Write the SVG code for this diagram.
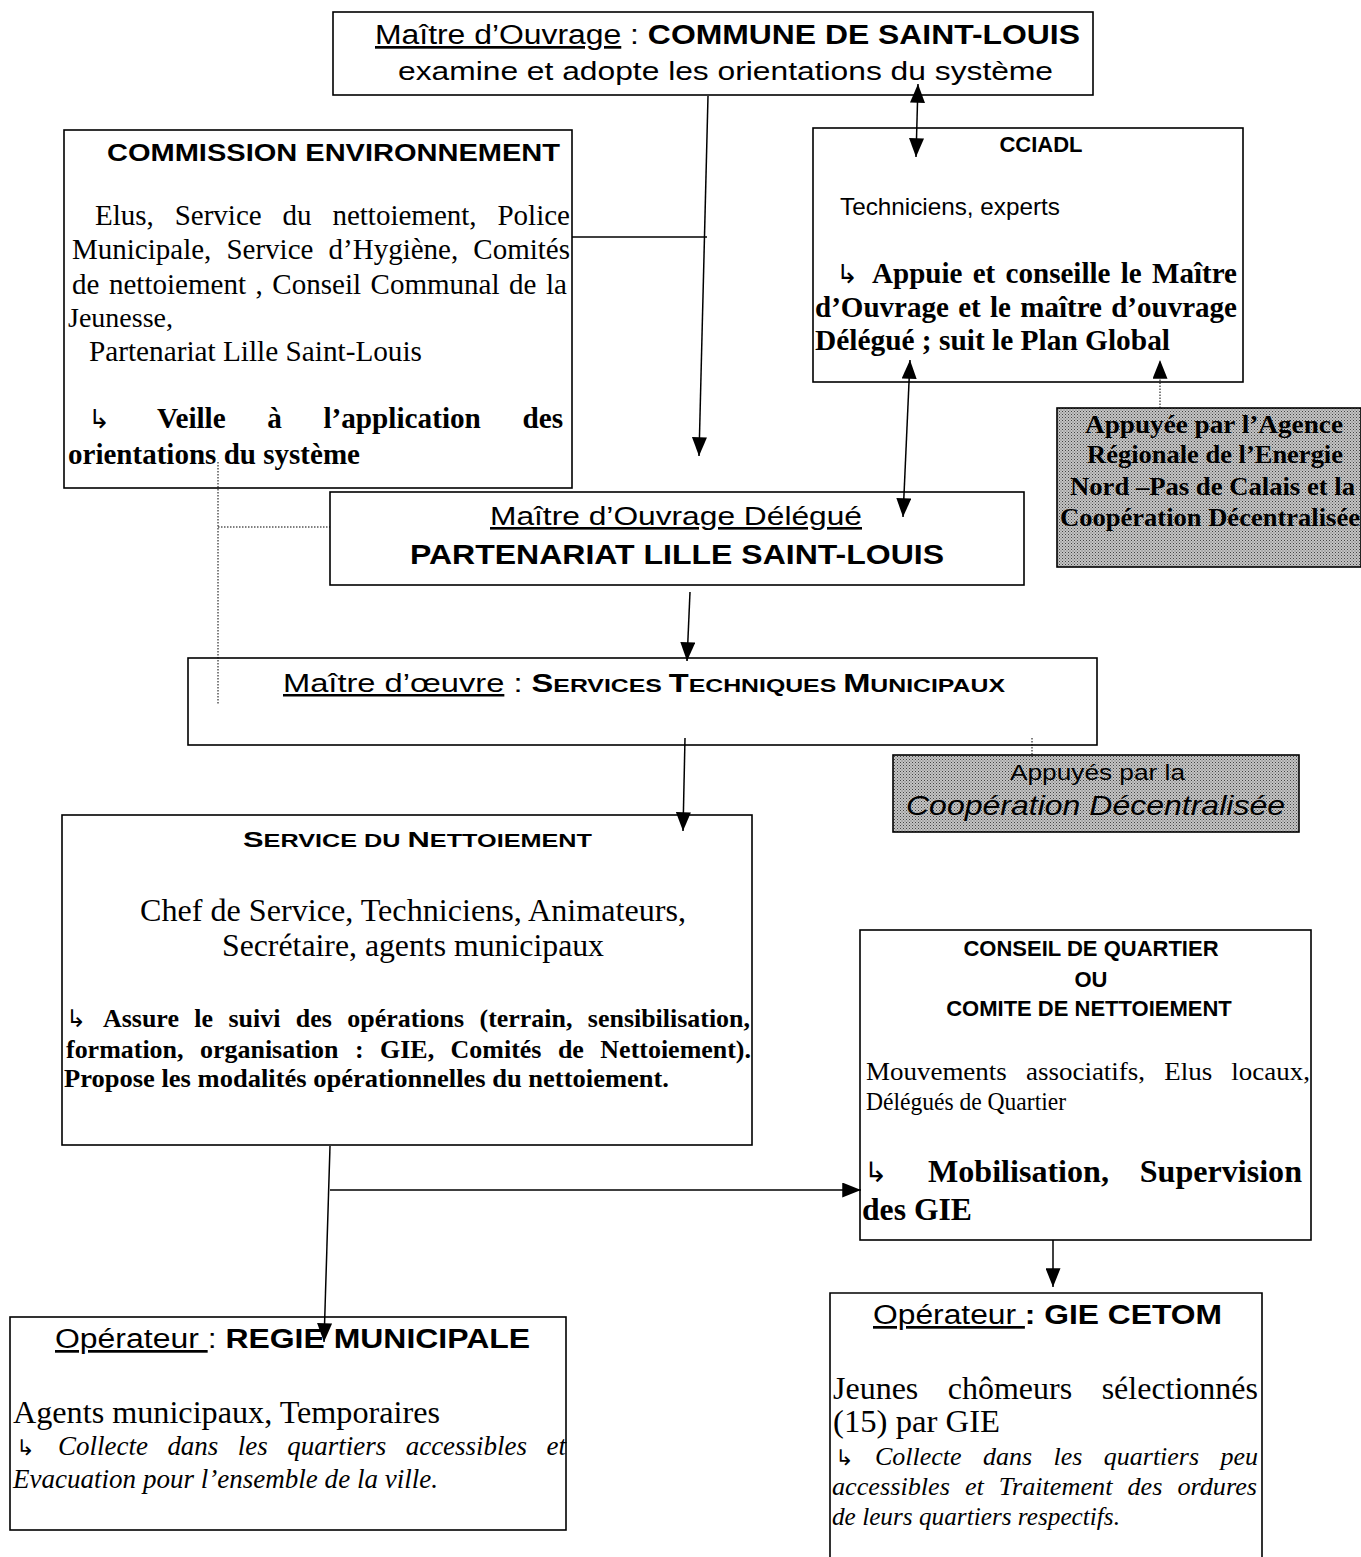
<svg xmlns="http://www.w3.org/2000/svg" width="1361" height="1557" viewBox="0 0 1361 1557">
<style>
.box{fill:#fff;stroke:#000;stroke-width:1.6}
.shade{fill:url(#dots);stroke:#000;stroke-width:1.6}
.sans{font-family:"Liberation Sans",Arial,sans-serif;fill:#000}
.serif{font-family:"Liberation Serif","Times New Roman",serif;fill:#000}
.b{font-weight:bold}
.i{font-style:italic}
.u{text-decoration:underline}
.sym{font-family:"DejaVu Sans",sans-serif;font-weight:normal;font-style:normal}
.c{text-anchor:middle}
.ln{fill:none;stroke:#000;stroke-width:1.5}
.dot{fill:none;stroke:#000;stroke-width:1;stroke-dasharray:1.5 1.5}
</style>
<defs>
<pattern id="dots" width="3" height="3" patternUnits="userSpaceOnUse">
<rect width="3" height="3" fill="#c4c4c4"/>
<rect x="0" y="0" width="1" height="1" fill="#444"/>
<rect x="1.5" y="1.5" width="1" height="1" fill="#666"/>
</pattern>
<marker id="ah" viewBox="0 0 20 16" refX="20" refY="8" markerWidth="20" markerHeight="15" markerUnits="userSpaceOnUse" orient="auto-start-reverse">
<path d="M0,0 L20,8 L0,16 Z" fill="#000"/>
</marker>
</defs>

<g id="maitre-ouvrage">
<rect class="box" x="333" y="12" width="760" height="83"/>
<text class="sans" x="375" y="44" font-size="27" textLength="705" lengthAdjust="spacingAndGlyphs"><tspan class="u">Maître d’Ouvrage</tspan> : <tspan class="b">COMMUNE DE SAINT-LOUIS</tspan></text>
<text class="sans" x="398" y="80" font-size="26" textLength="655" lengthAdjust="spacingAndGlyphs">examine et adopte les orientations du système</text>
</g>

<g id="commission">
<rect class="box" x="64" y="130" width="508" height="358"/>
<text class="sans b" x="107" y="161" font-size="24" textLength="453" lengthAdjust="spacingAndGlyphs">COMMISSION ENVIRONNEMENT</text>
<text class="serif" x="95" y="225" font-size="29" word-spacing="13.6" textLength="475" lengthAdjust="spacingAndGlyphs">Elus, Service du nettoiement, Police</text>
<text class="serif" x="72" y="259" font-size="29" word-spacing="7.9" textLength="498" lengthAdjust="spacingAndGlyphs">Municipale, Service d’Hygiène, Comités</text>
<text class="serif" x="72" y="294" font-size="29" word-spacing="2.3" textLength="495" lengthAdjust="spacingAndGlyphs">de nettoiement , Conseil Communal de la</text>
<text class="serif" x="68" y="327" font-size="28">Jeunesse,</text>
<text class="serif" x="89" y="361" font-size="29" textLength="333" lengthAdjust="spacingAndGlyphs">Partenariat Lille Saint-Louis</text>
<text class="serif" x="88" y="428" font-size="26"><tspan class="sym">↳</tspan></text>
<text class="serif b" x="157" y="428" font-size="29" word-spacing="34" textLength="406" lengthAdjust="spacingAndGlyphs">Veille à l’application des</text>
<text class="serif b" x="68" y="464" font-size="29" textLength="292" lengthAdjust="spacingAndGlyphs">orientations du système</text>
</g>

<g id="cciadl">
<rect class="box" x="813" y="128" width="430" height="254"/>
<text class="sans b c" x="1041" y="152" font-size="22">CCIADL</text>
<text class="sans" x="840" y="215" font-size="24" textLength="220" lengthAdjust="spacingAndGlyphs">Techniciens, experts</text>
<text class="serif" x="836" y="283" font-size="26"><tspan class="sym">↳</tspan></text>
<text class="serif b" x="872" y="283" font-size="29" word-spacing="3" textLength="365" lengthAdjust="spacingAndGlyphs">Appuie et conseille le Maître</text>
<text class="serif b" x="815" y="317" font-size="29" word-spacing="2" textLength="422" lengthAdjust="spacingAndGlyphs">d’Ouvrage et le maître d’ouvrage</text>
<text class="serif b" x="815" y="350" font-size="29" textLength="355" lengthAdjust="spacingAndGlyphs">Délégué ; suit le Plan Global</text>
</g>

<g id="agence-regionale">
<rect class="shade" x="1057" y="408" width="304" height="159"/>
<text class="serif b" x="1085" y="433" font-size="25" textLength="258" lengthAdjust="spacingAndGlyphs">Appuyée par  l’Agence</text>
<text class="serif b" x="1087" y="463" font-size="25" textLength="256" lengthAdjust="spacingAndGlyphs">Régionale de l’Energie</text>
<text class="serif b" x="1070" y="495" font-size="25" textLength="285" lengthAdjust="spacingAndGlyphs">Nord –Pas de Calais et la</text>
<text class="serif b" x="1060" y="526" font-size="25" textLength="300" lengthAdjust="spacingAndGlyphs">Coopération Décentralisée</text>
</g>

<g id="maitre-ouvrage-delegue">
<rect class="box" x="330" y="492" width="694" height="93"/>
<text class="sans u" x="490" y="525" font-size="26" textLength="372" lengthAdjust="spacingAndGlyphs">Maître d’Ouvrage Délégué</text>
<text class="sans b" x="410" y="564" font-size="28" textLength="534" lengthAdjust="spacingAndGlyphs">PARTENARIAT LILLE SAINT-LOUIS</text>
</g>

<g id="maitre-oeuvre">
<rect class="box" x="188" y="658" width="909" height="87"/>
<text class="sans" x="283" y="692" font-size="25" textLength="722" lengthAdjust="spacingAndGlyphs"><tspan class="u">Maître d’œuvre</tspan> : <tspan class="b">S</tspan><tspan class="b" font-size="19">ERVICES </tspan><tspan class="b">T</tspan><tspan class="b" font-size="19">ECHNIQUES </tspan><tspan class="b">M</tspan><tspan class="b" font-size="19">UNICIPAUX</tspan></text>
</g>

<g id="cooperation">
<rect class="shade" x="893" y="755" width="406" height="77"/>
<text class="sans" x="1010" y="780" font-size="22" textLength="175" lengthAdjust="spacingAndGlyphs">Appuyés par la</text>
<text class="sans i" x="906" y="815" font-size="28" textLength="379" lengthAdjust="spacingAndGlyphs">Coopération Décentralisée</text>
</g>

<g id="service-nettoiement">
<rect class="box" x="62" y="815" width="690" height="330"/>
<text class="sans b" x="243" y="847" font-size="22" textLength="349" lengthAdjust="spacingAndGlyphs">S<tspan font-size="18">ERVICE DU </tspan>N<tspan font-size="18">ETTOIEMENT</tspan></text>
<text class="serif" x="140" y="921" font-size="32" textLength="546" lengthAdjust="spacingAndGlyphs">Chef de Service, Techniciens, Animateurs,</text>
<text class="serif" x="222" y="956" font-size="32" textLength="382" lengthAdjust="spacingAndGlyphs">Secrétaire, agents municipaux</text>
<text class="serif" x="66" y="1027" font-size="24"><tspan class="sym">↳</tspan></text>
<text class="serif b" x="103" y="1027" font-size="26" word-spacing="9" textLength="647" lengthAdjust="spacingAndGlyphs">Assure le suivi des opérations (terrain, sensibilisation,</text>
<text class="serif b" x="66" y="1058" font-size="26" word-spacing="10" textLength="685" lengthAdjust="spacingAndGlyphs">formation, organisation : GIE, Comités de Nettoiement).</text>
<text class="serif b" x="64" y="1087" font-size="26" textLength="605" lengthAdjust="spacingAndGlyphs">Propose les modalités opérationnelles du nettoiement.</text>
</g>

<g id="conseil-quartier">
<rect class="box" x="860" y="930" width="451" height="310"/>
<text class="sans b c" x="1091" y="956" font-size="22">CONSEIL DE QUARTIER</text>
<text class="sans b c" x="1091" y="987" font-size="22">OU</text>
<text class="sans b c" x="1089" y="1016" font-size="22">COMITE DE NETTOIEMENT</text>
<text class="serif" x="866" y="1080" font-size="26" word-spacing="12" textLength="444" lengthAdjust="spacingAndGlyphs">Mouvements associatifs, Elus locaux,</text>
<text class="serif" x="866" y="1110" font-size="25" textLength="200" lengthAdjust="spacingAndGlyphs">Délégués de Quartier</text>
<text class="serif" x="864" y="1182" font-size="28"><tspan class="sym">↳</tspan></text>
<text class="serif b" x="928" y="1182" font-size="31" word-spacing="22" textLength="374" lengthAdjust="spacingAndGlyphs">Mobilisation, Supervision</text>
<text class="serif b" x="862" y="1220" font-size="31" textLength="110" lengthAdjust="spacingAndGlyphs">des GIE</text>
</g>

<g id="regie-municipale">
<rect class="box" x="10" y="1317" width="556" height="213"/>
<text class="sans" x="55" y="1348" font-size="27" textLength="475" lengthAdjust="spacingAndGlyphs"><tspan class="u">Opérateur </tspan>: <tspan class="b">REGIE MUNICIPALE</tspan></text>
<text class="serif" x="13" y="1423" font-size="32" textLength="427" lengthAdjust="spacingAndGlyphs">Agents municipaux, Temporaires</text>
<text class="serif" x="16" y="1455" font-size="22"><tspan class="sym">↳</tspan></text>
<text class="serif i" x="58" y="1455" font-size="27" word-spacing="12.7" textLength="508" lengthAdjust="spacingAndGlyphs">Collecte dans les quartiers accessibles et</text>
<text class="serif i" x="13" y="1488" font-size="27" textLength="425" lengthAdjust="spacingAndGlyphs">Evacuation pour l’ensemble de la ville.</text>
</g>

<g id="gie-cetom">
<path class="box" d="M830,1557 L830,1293 L1262,1293 L1262,1557"/>
<text class="sans" x="873" y="1324" font-size="27" textLength="349" lengthAdjust="spacingAndGlyphs"><tspan class="u">Opérateur </tspan><tspan class="b">: GIE CETOM</tspan></text>
<text class="serif" x="833" y="1399" font-size="32" word-spacing="21.5" textLength="425" lengthAdjust="spacingAndGlyphs">Jeunes chômeurs sélectionnés</text>
<text class="serif" x="833" y="1432" font-size="32" textLength="167" lengthAdjust="spacingAndGlyphs">(15) par GIE</text>
<text class="serif" x="835" y="1465" font-size="22"><tspan class="sym">↳</tspan></text>
<text class="serif i" x="875" y="1465" font-size="26" word-spacing="15" textLength="383" lengthAdjust="spacingAndGlyphs">Collecte dans les quartiers peu</text>
<text class="serif i" x="832" y="1495" font-size="26" word-spacing="8.4" textLength="425" lengthAdjust="spacingAndGlyphs">accessibles et Traitement des ordures</text>
<text class="serif i" x="832" y="1525" font-size="26" textLength="288" lengthAdjust="spacingAndGlyphs">de leurs quartiers respectifs.</text>
</g>

<g id="connectors">
<line class="ln" x1="708" y1="96" x2="699" y2="456" marker-end="url(#ah)"/>
<line class="ln" x1="572" y1="237" x2="707" y2="237"/>
<line class="ln" x1="918" y1="84" x2="916" y2="157" marker-start="url(#ah)" marker-end="url(#ah)"/>
<line class="ln" x1="910" y1="360" x2="903" y2="517" marker-start="url(#ah)" marker-end="url(#ah)"/>
<line class="dot" x1="1160" y1="408" x2="1160" y2="360" marker-end="url(#ah)"/>
<polyline class="dot" points="218,462 218,705"/>
<line class="dot" x1="218" y1="527" x2="330" y2="527"/>
<line class="ln" x1="690" y1="592" x2="687" y2="661" marker-end="url(#ah)"/>
<line class="dot" x1="1032" y1="738" x2="1032" y2="757"/>
<line class="ln" x1="685" y1="738" x2="683" y2="831" marker-end="url(#ah)"/>
<line class="ln" x1="330" y1="1146" x2="324" y2="1342" marker-end="url(#ah)"/>
<line class="ln" x1="330" y1="1190" x2="861" y2="1190" marker-end="url(#ah)"/>
<line class="ln" x1="1053" y1="1240" x2="1053" y2="1287" marker-end="url(#ah)"/>
</g>
</svg>
